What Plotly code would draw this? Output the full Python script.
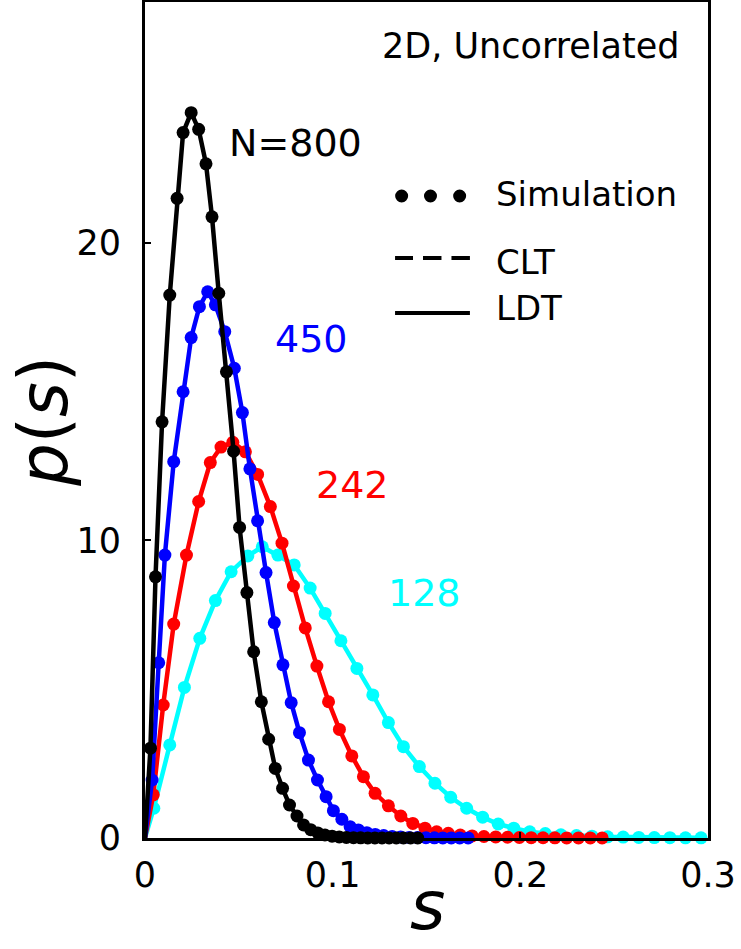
import plotly.graph_objects as go

# ---- data ----
s_800 = [0.0029, 0.0056, 0.0091, 0.0132, 0.0171, 0.0203, 0.0246, 0.0286, 0.0325, 0.0357,
         0.0393, 0.0434, 0.0472, 0.0504, 0.0543, 0.0579, 0.0620, 0.0659, 0.0694, 0.0733,
         0.0770, 0.0810, 0.0845, 0.0883, 0.0921, 0.0959, 0.0997, 0.1035, 0.1073, 0.1111,
         0.1149, 0.1187, 0.1225, 0.1263, 0.1301, 0.1339, 0.1377, 0.1415, 0.1453]
p_800 = [3.02, 8.78, 13.99, 18.25, 21.50, 23.71, 24.38, 23.82, 22.66, 20.88,
         18.31, 15.67, 13.0, 10.44, 8.25, 6.26, 4.58, 3.32, 2.34, 1.67,
         1.11, 0.74, 0.44, 0.28, 0.17, 0.10, 0.06, 0.035, 0.02, 0.012,
         0.007, 0.004, 0.002, 0.001, 0.001, 0.0005, 0.0, 0.0, 0.0]

s_450 = [0.0038, 0.0073, 0.0106, 0.0153, 0.0203, 0.0246, 0.0290, 0.0334, 0.0375, 0.0425,
         0.0476, 0.0519, 0.0559, 0.0600, 0.0645, 0.0689, 0.0735, 0.0779, 0.0823, 0.0871,
         0.0919, 0.0965, 0.1004, 0.1049, 0.1093, 0.1137, 0.1182, 0.1227, 0.1272, 0.1317,
         0.1362, 0.1407, 0.1452, 0.1497, 0.1542, 0.1587, 0.1632, 0.1677, 0.1722]
p_450 = [1.95, 5.89, 9.51, 12.65, 15.0, 16.82, 17.86, 18.36, 17.92, 17.02,
         15.79, 14.30, 12.41, 10.66, 8.92, 7.24, 5.82, 4.55, 3.54, 2.62,
         1.95, 1.39, 0.92, 0.63, 0.38, 0.27, 0.18, 0.12, 0.08, 0.05,
         0.035, 0.02, 0.015, 0.01, 0.006, 0.004, 0.002, 0.001, 0.001]

s_242 = [0.0044, 0.0097, 0.0153, 0.0221, 0.0286, 0.0348, 0.0405, 0.0468, 0.0535, 0.0600,
         0.0668, 0.0730, 0.0791, 0.0854, 0.0916, 0.0978, 0.1036, 0.1102, 0.1164, 0.1226,
         0.1297, 0.1363, 0.1427, 0.1492, 0.1554, 0.1616, 0.1680, 0.1743, 0.1806, 0.1869,
         0.1932, 0.1995, 0.2058, 0.2121, 0.2184, 0.2247, 0.2310, 0.2373, 0.2436]
p_242 = [1.45, 4.47, 7.19, 9.51, 11.31, 12.62, 13.14, 13.30, 12.98, 12.22,
         11.14, 9.91, 8.47, 7.06, 5.78, 4.58, 3.65, 2.76, 2.06, 1.50,
         1.08, 0.74, 0.49, 0.33, 0.21, 0.16, 0.10, 0.07, 0.05, 0.035,
         0.025, 0.017, 0.012, 0.008, 0.005, 0.003, 0.002, 0.001, 0.001]

s_128 = [0.0047, 0.0132, 0.0210, 0.0292, 0.0375, 0.0459, 0.0548, 0.0625, 0.0708, 0.0795,
         0.0880, 0.0960, 0.1044, 0.1129, 0.1214, 0.1297, 0.1377, 0.1462, 0.1545, 0.1629,
         0.1714, 0.1799, 0.1882, 0.1965, 0.2050, 0.2133, 0.2216, 0.2299, 0.2382, 0.2465,
         0.2548, 0.2631, 0.2714, 0.2797, 0.2880, 0.2963]
p_128 = [1.0, 3.13, 5.06, 6.71, 7.98, 8.95, 9.48, 9.79, 9.51, 9.18,
         8.40, 7.55, 6.63, 5.70, 4.81, 3.88, 3.07, 2.40, 1.84, 1.37,
         1.0, 0.70, 0.47, 0.33, 0.21, 0.15, 0.11, 0.08, 0.06, 0.04,
         0.03, 0.02, 0.015, 0.01, 0.007, 0.005]

series = [  # drawn bottom to top
    ("128", "#00ffff", s_128, p_128),
    ("242", "#ff0000", s_242, p_242),
    ("450", "#0000ff", s_450, p_450),
    ("N=800", "#000000", s_800, p_800),
]
label_pos = {"N=800": (0.0803, 23.36), "450": (0.0886, 16.77),
             "242": (0.1104, 11.87), "128": (0.1488, 8.24)}

x_ticks = [0, 0.1, 0.2, 0.3]
x_ticktext = ["0", "0.1", "0.2", "0.3"]
y_ticks = [0, 10, 20]
y_ticktext = ["0", "10", "20"]

FONT = "DejaVu Sans"

fig = go.Figure()
for name, col, s, p in series:
    fig.add_trace(go.Scatter(x=[0.0] + s, y=[0.0] + p, mode="lines",
                             line=dict(color=col, width=4.5), showlegend=False,
                             hoverinfo="skip"))
    fig.add_trace(go.Scatter(x=s, y=p, mode="markers",
                             marker=dict(color=col, size=13, line=dict(width=0)),
                             showlegend=False, cliponaxis=False))
    fig.add_annotation(x=label_pos[name][0], y=label_pos[name][1], xref="x", yref="y",
                       text=name, showarrow=False, xanchor="center", yanchor="middle",
                       font=dict(family=FONT, size=38, color=col))

W, H = 741, 949
L, R, T, B = 144.5, 32.5, 2, 111
pw, ph = W - L - R, H - T - B


def px(X):
    return (X - L) / pw


def py(Y):
    return (H - B - Y) / ph


fig.add_annotation(x=px(682), y=py(46), xref="paper", yref="paper", text="2D, Uncorrelated",
                   showarrow=False, xanchor="right", yanchor="middle",
                   font=dict(family=FONT, size=35, color="black"))

# legend (drawn by hand to show three dots)
shapes = []
for X in [401.6, 430.5, 459.7]:
    shapes.append(dict(type="circle", xref="paper", yref="paper", xsizemode="pixel",
                       ysizemode="pixel", xanchor=px(X), yanchor=py(196),
                       x0=-6.5, x1=6.5, y0=-6.5, y1=6.5, fillcolor="black", line=dict(width=0)))
for a, b in [(395, 413), (423, 441.5), (451.5, 470)]:
    shapes.append(dict(type="line", xref="paper", yref="paper", x0=px(a), x1=px(b),
                       y0=py(258), y1=py(258), line=dict(color="black", width=4)))
shapes.append(dict(type="line", xref="paper", yref="paper", x0=px(395), x1=px(470),
                   y0=py(313), y1=py(313), line=dict(color="black", width=4)))
for txt, Y in [("Simulation", 194), ("CLT", 262), ("LDT", 308)]:
    fig.add_annotation(x=px(494), y=py(Y), xref="paper", yref="paper", text=txt,
                       showarrow=False, xanchor="left", yanchor="middle",
                       font=dict(family=FONT, size=34, color="black"))

# axis titles
fig.add_annotation(x=px(43), y=py(421), xref="paper", yref="paper",
                   text="<i>p</i>(<i>s</i>)", textangle=-90, showarrow=False,
                   xanchor="center", yanchor="middle",
                   font=dict(family=FONT, size=67, color="black"))
fig.add_annotation(x=px(428), y=py(905), xref="paper", yref="paper",
                   text="<i>s</i>", showarrow=False, xanchor="center", yanchor="middle",
                   font=dict(family=FONT, size=68, color="black"))

fig.update_layout(
    width=W, height=H, margin=dict(l=L, r=R, t=T, b=B, autoexpand=False),
    paper_bgcolor="white", plot_bgcolor="white", shapes=shapes,
    xaxis=dict(range=[0, 0.3], tickvals=x_ticks, ticktext=x_ticktext, ticks="inside",
               ticklen=6, tickwidth=2, tickcolor="black", showline=True, linewidth=3,
               linecolor="black", mirror=True, showgrid=False, zeroline=False,
               tickfont=dict(family=FONT, size=35, color="black"), ticklabelstandoff=4),
    yaxis=dict(range=[0, 28.1], tickvals=y_ticks, ticktext=y_ticktext, ticks="inside",
               ticklen=6, tickwidth=2, tickcolor="black", showline=True, linewidth=3,
               linecolor="black", mirror=True, showgrid=False, zeroline=False,
               tickfont=dict(family=FONT, size=35, color="black"), ticklabelstandoff=14),
)

fig.write_html("out.html", config={"displayModeBar": False},
               post_script="document.body.style.margin='0';document.body.style.overflow='hidden';")
